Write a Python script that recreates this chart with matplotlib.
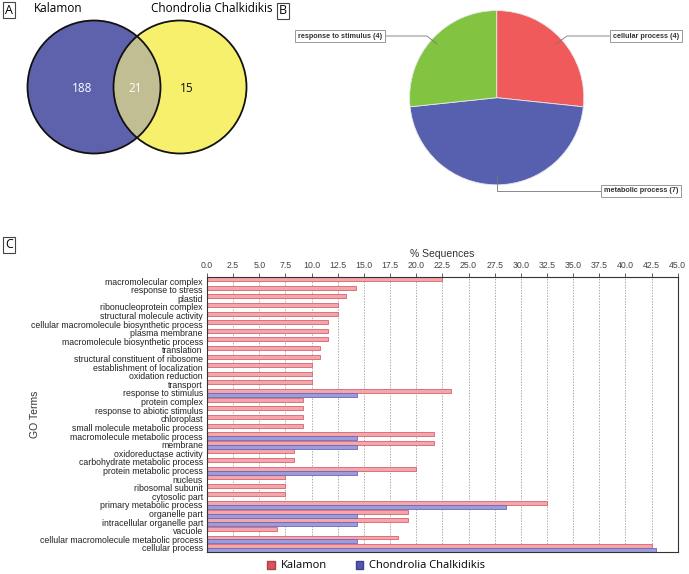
import numpy as np
import matplotlib.pyplot as plt
from matplotlib.patches import Circle, Patch

W, H = 689, 574

# Venn counts: only Kalamon, shared, only Chondrolia
venn_names = ['Kalamon', 'Chondrolia Chalkidikis']
venn_counts = [188, 21, 15]

# pie of shared GO terms
pie_labels = ['cellular process', 'metabolic process', 'response to stimulus']
pie_counts = [4, 7, 4]
pie_colors = ['#f05a5b', '#5660ae', '#82c342']

# GO term distribution (% sequences)
go_terms = ['macromolecular complex', 'response to stress', 'plastid',
            'ribonucleoprotein complex', 'structural molecule activity',
            'cellular macromolecule biosynthetic process', 'plasma membrane',
            'macromolecule biosynthetic process', 'translation',
            'structural constituent of ribosome', 'establishment of localization',
            'oxidation reduction', 'transport', 'response to stimulus',
            'protein complex', 'response to abiotic stimulus', 'chloroplast',
            'small molecule metabolic process', 'macromolecule metabolic process',
            'membrane', 'oxidoreductase activity', 'carbohydrate metabolic process',
            'protein metabolic process', 'nucleus', 'ribosomal subunit',
            'cytosolic part', 'primary metabolic process', 'organelle part',
            'intracellular organelle part', 'vacuole',
            'cellular macromolecule metabolic process', 'cellular process']
kalamon = [22.5, 14.2, 13.3, 12.5, 12.5, 11.6, 11.6, 11.6, 10.8, 10.8, 10.0,
           10.0, 10.0, 23.3, 9.2, 9.2, 9.2, 9.2, 21.7, 21.7, 8.3, 8.3, 20.0,
           7.5, 7.5, 7.5, 32.5, 19.2, 19.2, 6.7, 18.3, 42.5]
chondrolia = [0, 0, 0, 0, 0, 0, 0, 0, 0, 0, 0, 0, 0, 14.3, 0, 0, 0, 0, 14.3,
              14.3, 0, 0, 14.3, 0, 0, 0, 28.6, 14.3, 14.3, 0, 14.3, 42.9]

sans = ['Open Sans', 'DejaVu Sans']


def px(x, y, w, h):
    return [x / W, 1 - (y + h) / H, w / W, h / H]


fig = plt.figure(figsize=(W / 100, H / 100), dpi=100)

# ---- C: bar chart
ax = fig.add_axes(px(207, 276.7, 470.7, 275.6))
y = np.arange(len(go_terms))
ax.barh(y - 0.22, kalamon, height=0.46, color='#f3a6ab', edgecolor='#d8626d', lw=0.6)
ax.barh(y + 0.24, chondrolia, height=0.46, color='#9d9cd8', edgecolor='#6a68b8', lw=0.6)
ax.set_xlim(0, 45)
ax.set_ylim(len(go_terms) - 0.5, -0.5)
ax.set_yticks(y)
ax.set_yticklabels(go_terms, fontsize=6.3, family='Liberation Sans', color='#222')
ax.tick_params(axis='y', length=0, pad=3)
ticks = np.arange(0, 45.1, 2.5)
ax.set_xticks(ticks)
ax.set_xticklabels(['%.1f' % t for t in ticks], fontsize=6.3, color='#444',
                   family='Liberation Sans')
ax.xaxis.tick_top()
ax.xaxis.set_label_position('top')
ax.tick_params(axis='x', length=3, width=0.6, pad=1.5, color='#444')
ax.set_xlabel('% Sequences', fontsize=7.5, color='#333', labelpad=3,
              family='Liberation Sans')
ax.set_ylabel('GO Terms', fontsize=7.5, color='#333', family='Liberation Sans')
ax.yaxis.set_label_coords(-0.355, 0.5)
ax.grid(axis='x', ls=(0, (2, 2)), color='#8a8a8a', lw=0.5)
ax.set_axisbelow(True)
for s in ax.spines.values():
    s.set_color('#333')
    s.set_linewidth(0.8)

fig.legend(handles=[Patch(facecolor='#d9525c', edgecolor='#b04048', label='Kalamon'),
                    Patch(facecolor='#5558a8', edgecolor='#404090',
                          label='Chondrolia Chalkidikis')],
           loc='center', bbox_to_anchor=(376 / W, 1 - 566 / H), ncol=2, frameon=False,
           handlelength=0.7, handleheight=0.7, handletextpad=0.5, columnspacing=2.6,
           prop={'family': sans, 'size': 8})

# ---- B: pie
axp = fig.add_axes(px(408.7, 9.7, 176, 176))
axp.pie(pie_counts, colors=pie_colors, startangle=90, counterclock=False,
        wedgeprops=dict(edgecolor='#e8e8e8', linewidth=0.6))
axp.set_xlim(-1.01, 1.01)
axp.set_ylim(-1.01, 1.01)

# ---- overlay for Venn, panel letters and pie callouts
ov = fig.add_axes([0, 0, 1, 1])
ov.set_xlim(0, W)
ov.set_ylim(H, 0)
ov.axis('off')

left = Circle((94, 87), 66.5, facecolor='#5e62ac', edgecolor='none')
right = Circle((180, 87), 66.5, facecolor='#f7f06c', edgecolor='none')
ov.add_patch(left)
ov.add_patch(right)
both = Circle((180, 87), 66.5, facecolor='#c2be93', edgecolor='none')
ov.add_patch(both)
both.set_clip_path(left)
for c in [(94, 87), (180, 87)]:
    ov.add_patch(Circle(c, 66.5, fill=False, edgecolor='#111', lw=1.3))

ov.text(58, 9, venn_names[0], ha='center', va='center', fontsize=8.5, family=sans)
ov.text(212, 9, venn_names[1], ha='center', va='center', fontsize=8.5, family=sans)
ov.text(82, 89, str(venn_counts[0]), ha='center', va='center', fontsize=8.5,
        color='white', family=sans)
ov.text(135, 89, str(venn_counts[1]), ha='center', va='center', fontsize=8.5,
        color='white', family=sans)
ov.text(187, 89, str(venn_counts[2]), ha='center', va='center', fontsize=8.5,
        color='#111', family=sans)

box = dict(boxstyle='square,pad=0.15', facecolor='white', edgecolor='#444', lw=0.8)
for letter, (lx, ly) in zip('ABC', [(9, 10), (283, 11), (9, 245)]):
    ov.text(lx, ly, letter, ha='center', va='center', fontsize=9, family=sans, bbox=box)

lbox = dict(boxstyle='square,pad=0.35', facecolor='white', edgecolor='#888', lw=0.6)
callouts = [(646, 36, [612, 567, 556], [36, 36, 44]),
            (641, 191, [602, 497, 497], [191, 191, 176]),
            (340, 36, [383, 427, 437], [36, 36, 44])]
for lab, n, (tx, ty, lx, ly) in zip(pie_labels, pie_counts, callouts):
    ov.plot(lx, ly, color='#777', lw=0.6)
    ov.text(tx, ty, '%s (%d)' % (lab, n), ha='center', va='center', fontsize=5.2,
            family='Liberation Sans', weight='bold', color='#333', bbox=lbox)

fig.savefig('out.png', dpi=100)
